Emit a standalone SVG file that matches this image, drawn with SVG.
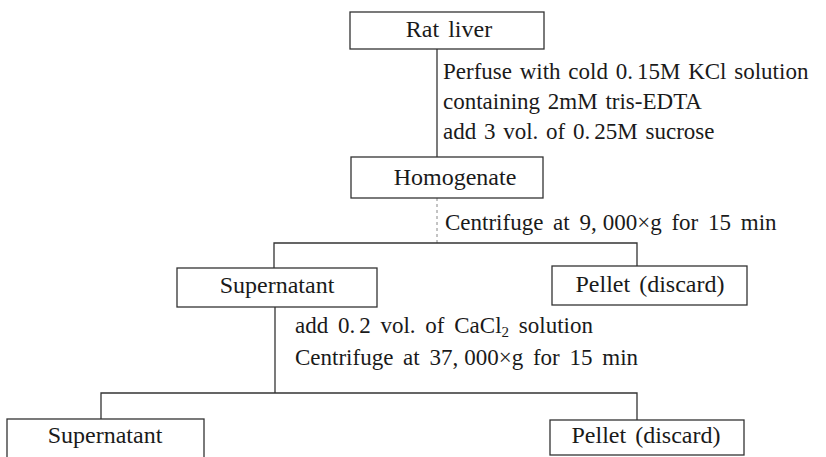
<svg xmlns="http://www.w3.org/2000/svg" width="826" height="457" viewBox="0 0 826 457">
<style>
  .box { fill: #ffffff; stroke: #333333; stroke-width: 1.3; }
  .wire { fill: none; stroke: #333333; stroke-width: 1.3; }
  .faint { fill: none; stroke: #888888; stroke-width: 1; stroke-dasharray: 3 3; }
</style>
<rect width="826" height="457" fill="#ffffff"/>

<g id="connectors">
  <line class="wire" x1="437" y1="49" x2="437" y2="157"/>
  <line class="faint" x1="437" y1="198" x2="437" y2="243"/>
  <polyline class="wire" points="274,268 274,243 637,243 637,266"/>
  <line class="wire" x1="275" y1="307" x2="275" y2="393"/>
  <polyline class="wire" points="101,419 101,393 637,393 637,420"/>

  <g font-family="Liberation Serif" font-size="23" fill="#1a1a1a" word-spacing="2">
    <text font-family="Liberation Serif" x="443" y="79">Perfuse with cold 0.<tspan dx="4">15M</tspan> KCl solution</text>
    <text font-family="Liberation Serif" x="443" y="109">containing 2mM tris-EDTA</text>
    <text font-family="Liberation Serif" x="443" y="139">add 3 vol. of 0.<tspan dx="4">25M</tspan> sucrose</text>
    <text font-family="Liberation Serif" x="445" y="230" word-spacing="4">Centrifuge at 9,<tspan dx="6">000×g</tspan> for 15 min</text>
    <text font-family="Liberation Serif" x="295" y="333" word-spacing="4">add 0.<tspan dx="4">2</tspan> vol. of CaCl<tspan font-size="15" dy="4">2</tspan><tspan dy="-4"> solution</tspan></text>
    <text font-family="Liberation Serif" x="295" y="365" word-spacing="4">Centrifuge at 37,<tspan dx="6">000×g</tspan> for 15 min</text>
  </g>
</g>

<g id="node-rat-liver">
  <rect class="box" x="350" y="12" width="194" height="37"/>
  <text font-family="Liberation Serif" font-size="24" fill="#1a1a1a" text-anchor="middle" word-spacing="3" x="449" y="37">Rat liver</text>
</g>

<g id="node-homogenate">
  <rect class="box" x="351" y="157" width="192" height="41"/>
  <text font-family="Liberation Serif" font-size="24" fill="#1a1a1a" text-anchor="middle" x="455" y="185">Homogenate</text>
</g>

<g id="node-supernatant-1">
  <rect class="box" x="177" y="268" width="200" height="39"/>
  <text font-family="Liberation Serif" font-size="24" fill="#1a1a1a" text-anchor="middle" x="277" y="293">Supernatant</text>
</g>

<g id="node-pellet-1">
  <rect class="box" x="552" y="266" width="195" height="39"/>
  <text font-family="Liberation Serif" font-size="24" fill="#1a1a1a" text-anchor="middle" word-spacing="3" x="650" y="292">Pellet (discard)</text>
</g>

<g id="node-supernatant-2">
  <rect class="box" x="7" y="419" width="197" height="45"/>
  <text font-family="Liberation Serif" font-size="24" fill="#1a1a1a" text-anchor="middle" x="105" y="443">Supernatant</text>
</g>

<g id="node-pellet-2">
  <rect class="box" x="550" y="420" width="194" height="35"/>
  <text font-family="Liberation Serif" font-size="24" fill="#1a1a1a" text-anchor="middle" word-spacing="3" x="646" y="443">Pellet (discard)</text>
</g>
</svg>
